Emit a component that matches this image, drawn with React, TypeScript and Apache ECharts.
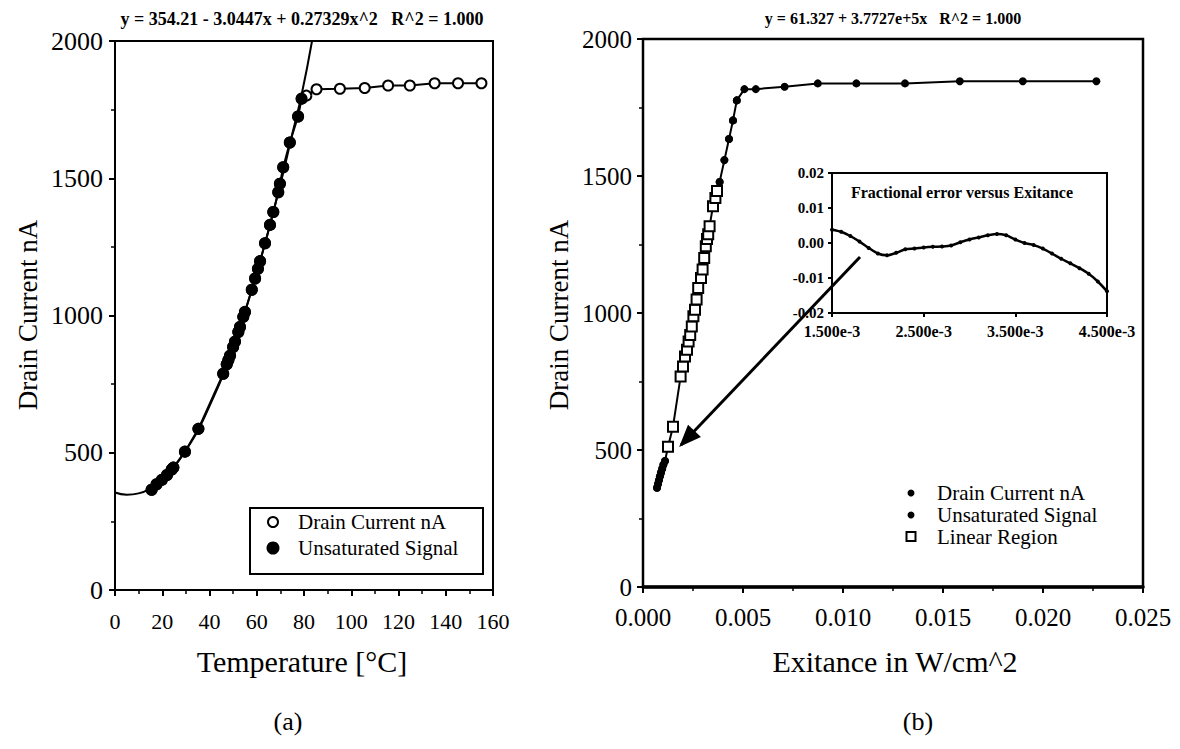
import React, { useEffect, useRef } from "react";
import * as echarts from "echarts";

// ---------- Panel (a): Drain current vs temperature ----------
const unsatTemp = [15.5, 17.6, 19.8, 22, 24, 24.7, 29.6, 35.3, 45.8, 47.3, 48, 48.7, 50, 50.8, 52.2, 52.9, 54.3, 55, 57.9, 59.3, 60.5, 61.4, 63.5, 65.6, 67, 69.1, 69.8, 71.2, 74.0, 77.5, 79.0];
const unsatCurrent = [365, 385, 401, 419, 439, 446, 504, 587, 788, 822, 838, 854, 885, 905, 940, 958, 995, 1013, 1094, 1135, 1170, 1198, 1263, 1330, 1377, 1449, 1480, 1540, 1630, 1725, 1790];
const satTemp = [81.0, 85.3, 95.2, 105.7, 115.6, 124.8, 135.3, 145.2, 155.1];
const satCurrent = [1801, 1824, 1826, 1829, 1838, 1838, 1846, 1846, 1846];
const fitTemp = [0, 5, 10, 15, 20, 30, 40, 50, 60, 70, 75, 79, 83.4];
const fitCurrent = [355, 347, 352, 370, 402, 509, 670, 885, 1155, 1478, 1660, 1805, 2000];

// ---------- Panel (b): Drain current vs exitance ----------
const lowExitance = [0.00070, 0.00075, 0.00080, 0.00085, 0.00090, 0.00096, 0.00102, 0.00110];
const lowCurrent = [362, 376, 390, 404, 418, 432, 446, 460];
const linearExitance = [0.00125, 0.00150, 0.00188, 0.00200, 0.00210, 0.00220, 0.00228, 0.00236, 0.00244, 0.00252, 0.00260, 0.00268, 0.00276, 0.00290, 0.00298, 0.00306, 0.00314, 0.00320, 0.00326, 0.00333, 0.00350, 0.00362, 0.00370];
const linearCurrent = [512, 585, 768, 805, 841, 866, 896, 920, 951, 988, 1012, 1049, 1091, 1128, 1159, 1201, 1244, 1270, 1287, 1317, 1390, 1420, 1445];
const highExitance = [0.00383, 0.00407, 0.00430, 0.00450, 0.00469];
const highCurrent = [1478, 1558, 1635, 1703, 1776];
const satExitance = [0.00507, 0.00564, 0.00708, 0.00874, 0.01067, 0.0131, 0.01584, 0.01899, 0.02267];
const satExitCurrent = [1817, 1817, 1826, 1838, 1838, 1838, 1846, 1846, 1846];

// ---------- Inset: fractional error vs exitance ----------
const errExitance = [0.00150, 0.00160, 0.00170, 0.00180, 0.00190, 0.00200, 0.00210, 0.00220, 0.00230, 0.00240, 0.00250, 0.00260, 0.00270, 0.00280, 0.00290, 0.00300, 0.00310, 0.00320, 0.00330, 0.00340, 0.00350, 0.00360, 0.00370, 0.00380, 0.00390, 0.00400, 0.00410, 0.00420, 0.00430, 0.00440, 0.00450];
const errValue = [0.0038, 0.0032, 0.0020, 0.0004, -0.0014, -0.0030, -0.0035, -0.0028, -0.0018, -0.0016, -0.0013, -0.0011, -0.0010, -0.0007, 0.0002, 0.0010, 0.0016, 0.0022, 0.0026, 0.0022, 0.0010, 0.0000, -0.0006, -0.0016, -0.0030, -0.0045, -0.0058, -0.0072, -0.0088, -0.0110, -0.0138];

const zip = (xs: number[], ys: number[]) => xs.map((x, i) => [x, ys[i]]);
const FONT = '"Liberation Serif", "Times New Roman", serif';

export default function App() {
  const ref = useRef<HTMLDivElement>(null);
  useEffect(() => {
    if (!ref.current) return;
    const chart = echarts.init(ref.current, null, { renderer: "svg" });

    const axisBase = (fontSize: number, margin: number, lineWidth = 2) => ({
      axisLine: { show: true, onZero: false, lineStyle: { color: "#000", width: lineWidth } },
      axisTick: { show: true, length: 6, lineStyle: { color: "#000", width: 2 } },
      minorTick: { show: true, splitNumber: 2, length: 4, lineStyle: { color: "#000", width: 1.5 } },
      splitLine: { show: false },
      axisLabel: { color: "#000", fontFamily: FONT, fontSize, margin, formatter: (v: number) => String(v) },
    });

    const allA = zip(unsatTemp, unsatCurrent).concat(zip(satTemp, satCurrent));
    const allB = zip(lowExitance, lowCurrent)
      .concat(zip(linearExitance, linearCurrent))
      .concat(zip(highExitance, highCurrent))
      .concat(zip(satExitance, satExitCurrent));
    const unsatB = zip(lowExitance, lowCurrent).concat(zip(highExitance, highCurrent));

    const txt = (x: number, y: number, text: string, font: string, rotation = 0) => ({
      type: "text", x, y, rotation, z: 100,
      style: { text, font, fill: "#000", textAlign: "center", textVerticalAlign: "middle", align: "center", verticalAlign: "middle" },
    });
    const ltxt = (x: number, y: number, text: string, font: string) => ({
      type: "text", x, y, z: 100,
      style: { text, font, fill: "#000", textAlign: "left", textVerticalAlign: "middle", align: "left", verticalAlign: "middle" },
    });

    // arrow annotation
    const ax0 = 860, ay0 = 257, ax1 = 681, ay1 = 445;
    const ang = Math.atan2(ay1 - ay0, ax1 - ax0);
    const headLen = 20, headAng = 0.38;
    const h1 = [ax1 - headLen * Math.cos(ang - headAng), ay1 - headLen * Math.sin(ang - headAng)];
    const h2 = [ax1 - headLen * Math.cos(ang + headAng), ay1 - headLen * Math.sin(ang + headAng)];

    const insetLabel = { color: "#000", fontFamily: FONT, fontWeight: "bold" };

    chart.setOption({
      animation: false,
      backgroundColor: "#fff",
      textStyle: { fontFamily: FONT, color: "#000" },
      grid: [
        { left: 115, top: 41, width: 378, height: 549, show: true, borderColor: "#000", borderWidth: 2, backgroundColor: "transparent" },
        { left: 643, top: 39, width: 500, height: 548, show: true, borderColor: "#000", borderWidth: 2.5, backgroundColor: "transparent" },
        { left: 832, top: 173, width: 275, height: 140, show: true, borderColor: "#000", borderWidth: 2, backgroundColor: "#fff" },
      ],
      xAxis: [
        { type: "value", gridIndex: 0, min: 0, max: 160, interval: 20, ...axisBase(22, 20) },
        {
          type: "value", gridIndex: 1, min: 0, max: 0.025, interval: 0.005, ...axisBase(25, 18, 3.5),
          axisLabel: { color: "#000", fontFamily: FONT, fontSize: 25, margin: 18, formatter: (v: number) => v.toFixed(3) },
        },
        {
          type: "value", gridIndex: 2, min: 0.0015, max: 0.0045, interval: 0.001, ...axisBase(16, 10),
          axisTick: { show: true, length: 4, lineStyle: { color: "#000", width: 2 } },
          minorTick: { show: false },
          axisLabel: { ...insetLabel, fontSize: 16, margin: 10, formatter: (v: number) => (v * 1000).toFixed(3) + "e-3" },
        },
      ],
      yAxis: [
        { type: "value", gridIndex: 0, min: 0, max: 2000, interval: 500, ...axisBase(26, 12) },
        { type: "value", gridIndex: 1, min: 0, max: 2000, interval: 500, ...axisBase(25, 11) },
        {
          type: "value", gridIndex: 2, min: -0.02, max: 0.02, interval: 0.01, ...axisBase(15, 8),
          axisTick: { show: true, length: 4, lineStyle: { color: "#000", width: 2 } },
          minorTick: { show: false },
          axisLabel: { ...insetLabel, fontSize: 15, margin: 8, formatter: (v: number) => v.toFixed(2) },
        },
      ],
      series: [
        {
          name: "Fit (a)", type: "line", xAxisIndex: 0, yAxisIndex: 0, data: zip(fitTemp, fitCurrent),
          showSymbol: false, smooth: true, lineStyle: { color: "#000", width: 2 }, clip: true, z: 2,
        },
        {
          name: "Drain Current nA", type: "line", xAxisIndex: 0, yAxisIndex: 0, data: allA,
          symbol: "circle", symbolSize: 10, lineStyle: { color: "#000", width: 2 },
          itemStyle: { color: "#fff", borderColor: "#000", borderWidth: 2, opacity: 1 }, z: 3,
        },
        {
          name: "Unsaturated Signal", type: "scatter", xAxisIndex: 0, yAxisIndex: 0, data: zip(unsatTemp, unsatCurrent),
          symbol: "circle", symbolSize: 12, itemStyle: { color: "#000", opacity: 1 }, z: 4,
        },
        {
          name: "Drain Current nA (b)", type: "line", xAxisIndex: 1, yAxisIndex: 1, data: allB,
          symbol: "circle", symbolSize: 8, lineStyle: { color: "#000", width: 2 },
          itemStyle: { color: "#000", opacity: 1 }, z: 3,
        },
        {
          name: "Unsaturated Signal (b)", type: "scatter", xAxisIndex: 1, yAxisIndex: 1, data: unsatB,
          symbol: "circle", symbolSize: 8, itemStyle: { color: "#000", opacity: 1 }, z: 4,
        },
        {
          name: "Linear Region", type: "scatter", xAxisIndex: 1, yAxisIndex: 1, data: zip(linearExitance, linearCurrent),
          symbol: "rect", symbolSize: 10, itemStyle: { color: "#fff", borderColor: "#000", borderWidth: 2, opacity: 1 }, z: 5,
        },
        {
          name: "Fractional error", type: "line", xAxisIndex: 2, yAxisIndex: 2, data: zip(errExitance, errValue),
          symbol: "circle", symbolSize: 4, smooth: 0.3, lineStyle: { color: "#000", width: 2.5 },
          itemStyle: { color: "#000", opacity: 1 }, z: 6,
        },
      ],
      graphic: [
        txt(302, 19, "y = 354.21 - 3.0447x + 0.27329x^2   R^2 = 1.000", `bold 18px ${FONT}`),
        txt(893, 18, "y = 61.327 + 3.7727e+5x   R^2 = 1.000", `bold 16px ${FONT}`),
        txt(28, 315, "Drain Current nA", `27px ${FONT}`, Math.PI / 2),
        txt(559, 315, "Drain Current nA", `27px ${FONT}`, Math.PI / 2),
        txt(302, 661, "Temperature [°C]", `30px ${FONT}`),
        txt(895, 661, "Exitance in W/cm^2", `30px ${FONT}`),
        txt(288, 721, "(a)", `26px ${FONT}`),
        txt(918, 721, "(b)", `26px ${FONT}`),
        txt(962, 192, "Fractional error versus Exitance", `bold 16px ${FONT}`),
        // legend (a)
        { type: "rect", z: 100, shape: { x: 250, y: 508, width: 233, height: 66 }, style: { fill: "#fff", stroke: "#000", lineWidth: 2 } },
        { type: "circle", z: 101, shape: { cx: 273, cy: 522, r: 5 }, style: { fill: "#fff", stroke: "#000", lineWidth: 2 } },
        { type: "circle", z: 101, shape: { cx: 273, cy: 548, r: 6.5 }, style: { fill: "#000" } },
        ltxt(298, 522, "Drain Current nA", `21px ${FONT}`),
        ltxt(298, 548, "Unsaturated Signal", `21px ${FONT}`),
        // legend (b)
        { type: "circle", z: 101, shape: { cx: 911, cy: 493, r: 3.5 }, style: { fill: "#000" } },
        { type: "circle", z: 101, shape: { cx: 911, cy: 515, r: 3.5 }, style: { fill: "#000" } },
        { type: "rect", z: 101, shape: { x: 906.5, y: 532, width: 9, height: 9 }, style: { fill: "#fff", stroke: "#000", lineWidth: 2 } },
        ltxt(937, 493, "Drain Current nA", `21px ${FONT}`),
        ltxt(937, 515, "Unsaturated Signal", `21px ${FONT}`),
        ltxt(937, 537, "Linear Region", `21px ${FONT}`),
        // arrow
        { type: "line", z: 120, shape: { x1: ax0, y1: ay0, x2: ax1, y2: ay1 }, style: { stroke: "#000", lineWidth: 3 } },
        { type: "polygon", z: 120, shape: { points: [h1, [ax1, ay1], h2] }, style: { fill: "#000", stroke: "#000", lineWidth: 2 } },
      ],
    });
    return () => chart.dispose();
  }, []);
  return <div ref={ref} style={{ position: "fixed", left: 0, top: 0, width: 1180, height: 749, background: "#fff" }} />;
}
